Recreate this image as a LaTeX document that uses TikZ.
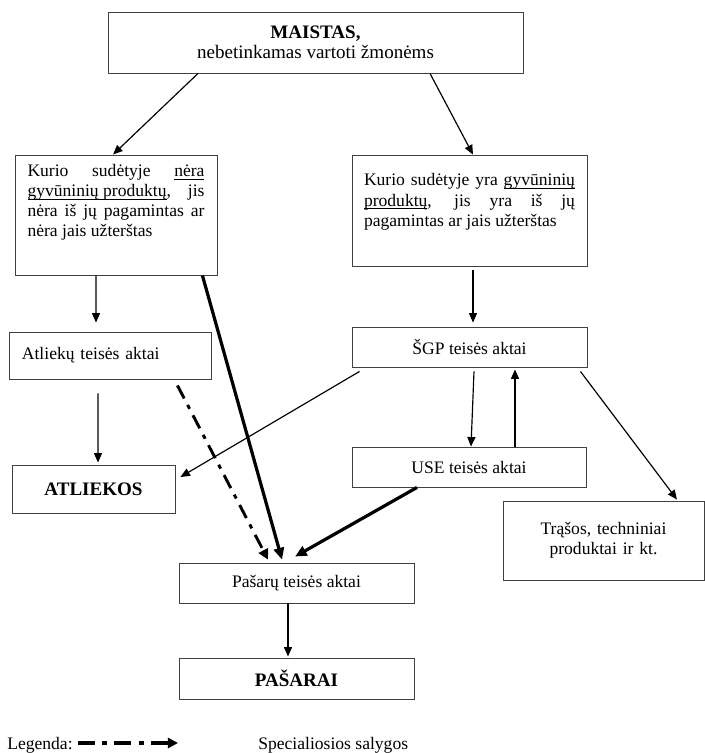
\documentclass[tikz,border=0pt]{standalone}
\usepackage{fontspec}
\setmainfont{Liberation Serif}
\usetikzlibrary{positioning, arrows.meta}
\newcommand{\ulword}[1]{\setbox0\hbox{#1}\leavevmode\rlap{\rule[-2.2pt]{\wd0}{0.6pt}}\box0\relax}
\hyphenpenalty=10000
\exhyphenpenalty=10000

\begin{document}
\begin{tikzpicture}[
    font=\fontsize{12}{13.7}\selectfont,
    box/.style={rectangle, draw=black!75, line width=0.6pt, inner ysep=0pt},
    bigbox/.style={box, align=justify},
    result/.style={box, font=\fontsize{13}{14}\selectfont\bfseries},
    arrow/.style={->, >={Triangle[length=6.5pt, width=5.5pt]}, line width=0.8pt},
    heavy/.style={->, >={Triangle[length=8pt, width=7pt]}, line width=2.2pt},
    special/.style={->, >={Triangle[length=7pt, width=7pt]}, line width=2pt,
                    dash pattern=on 10pt off 5pt on 3pt off 5pt}
  ]
    \useasboundingbox (0,0) rectangle (16.92,-18.072);

    % Top: food
    \node[box, minimum width=9.96cm, minimum height=1.464cm, align=center,
          font=\fontsize{13}{14}\selectfont] (food) at (7.572,-1.02)
          {\textbf{MAISTAS,}\\nebetinkamas vartoti žmonėms};

    % Two kinds of food
    \node[bigbox, text width=4.248cm, inner xsep=0.3cm, inner ysep=0.22cm,
          text depth=2.15cm] (no-animal) at (2.784,-5.16)
          {Kurio sudėtyje \ulword{nėra} \ulword{gyvūninių produktų}, jis nėra iš jų pagamintas ar nėra jais užterštas};
    \node[bigbox, text width=5.064cm, inner xsep=0.288cm, inner ysep=0.45cm,
          text depth=1.47cm] (animal) at (11.268,-5.052)
          {Kurio sudėtyje yra \ulword{gyvūninių} \ulword{produktų}, jis yra iš jų pagamintas ar jais užterštas};

    % Legal acts
    \node[box, text width=4.228cm, inner xsep=0.31cm, align=left,
          minimum height=1.128cm] (waste-law) at (2.64,-8.532) {Atliekų teisės aktai};
    \node[box, minimum width=5.64cm, minimum height=0.96cm] (abp-law) at (11.268,-8.328) {ŠGP teisės aktai};
    \node[box, minimum width=5.616cm, minimum height=0.96cm] (use-law) at (11.256,-11.208) {USE teisės aktai};
    \node[box, minimum width=5.64cm, minimum height=0.96cm] (feed-law) at (7.116,-13.992) {Pašarų teisės aktai};

    % Results
    \node[result, minimum width=3.912cm, minimum height=1.152cm] (waste) at (2.244,-11.736) {ATLIEKOS};
    \node[box, text width=4.824cm, inner xsep=0pt, align=center, minimum height=1.896cm]
          (fert) at (14.484,-12.972) {Trąšos, techniniai\\produktai ir kt.};
    \node[result, minimum width=5.64cm, minimum height=0.984cm] (feed) at (7.116,-16.284) {PAŠARAI};

    % Arrows from food
    \draw[arrow] ([xshift=-2.82cm]food.south) -- ([xshift=-0.07cm]no-animal.north);
    \draw[arrow] ([xshift=2.748cm]food.south) -- ([xshift=0.084cm]animal.north);

    % Left column
    \draw[arrow] ([xshift=-0.48cm]no-animal.south) -- ([xshift=-0.336cm, yshift=0.216cm]waste-law.north);
    \draw[arrow] ([xshift=-0.288cm, yshift=-0.336cm]waste-law.south) -- ([xshift=0.108cm, yshift=0.048cm]waste.north);

    % Right column
    \draw[arrow] ([xshift=0.084cm, yshift=-0.096cm]animal.south) -- ([xshift=0.084cm, yshift=0.096cm]abp-law.north);
    \draw[arrow] ([xshift=0.108cm, yshift=-0.096cm]abp-law.south) -- ([xshift=0.048cm]use-law.north);
    \draw[arrow] ([xshift=1.104cm]use-law.north) -- ([xshift=1.092cm, yshift=-0.048cm]abp-law.south);
    \draw[arrow] ([xshift=-0.168cm, yshift=-0.096cm]abp-law.south east) -- ([xshift=1.764cm, yshift=0.024cm]fert.north);
    \draw[arrow] ([xshift=0.192cm, yshift=-0.096cm]abp-law.south west) -- ([xshift=0.12cm, yshift=0.288cm]waste.east);

    % Into feed law
    \draw[heavy] ([xshift=-0.36cm]no-animal.south east) -- ([xshift=-0.348cm, yshift=0.072cm]feed-law.north);
    \draw[special] ([xshift=-0.816cm, yshift=-0.144cm]waste-law.south east) -- ([xshift=-0.684cm, yshift=0.072cm]feed-law.north);
    \draw[heavy] ([xshift=-1.248cm]use-law.south) -- ([xshift=-0.036cm, yshift=0.144cm]feed-law.north);
    \draw[arrow] ([xshift=-0.204cm]feed-law.south) -- ([xshift=-0.204cm, yshift=0.024cm]feed.north);

    % Legend
    \node[anchor=base west, inner sep=0pt] (legend) at (0.168,-17.976) {Legenda:};
    \node[anchor=base west, inner sep=0pt] (special-text) at (6.192,-17.976) {Specialiosios salygos};
    \draw[special, line width=2.7pt, dash pattern=on 11.5pt off 5pt on 3.4pt off 5pt]
          ([xshift=0.12cm, yshift=0.144cm]legend.base east) -- ([xshift=-1.92cm, yshift=0.144cm]special-text.base west);

  \end{tikzpicture}
\end{document}
